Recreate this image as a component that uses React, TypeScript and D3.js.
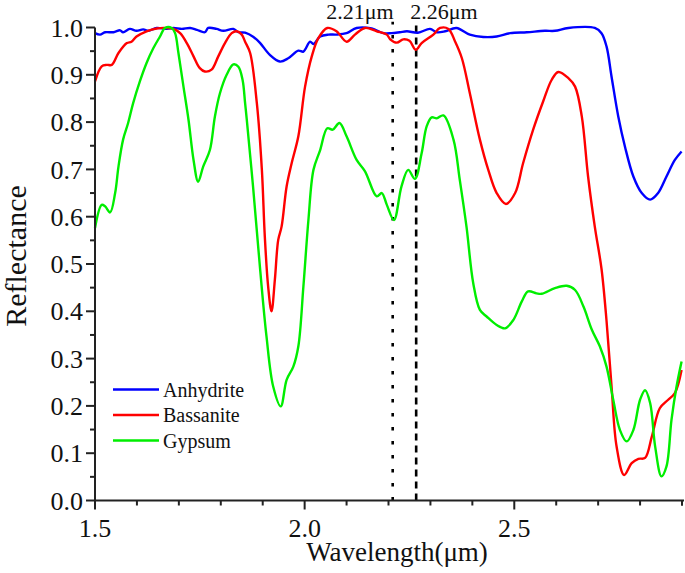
import React, { useEffect } from "react";
import * as d3 from "d3";

// ---- Data (wavelength µm, reflectance) ----
const anhydrite: [number, number][] = [
  [1.5, 0.988], [1.512, 0.985], [1.524, 0.99], [1.544, 0.99], [1.56, 0.994], [1.567, 0.99],
  [1.583, 0.997], [1.599, 0.993], [1.615, 0.996], [1.627, 0.993], [1.647, 0.999], [1.671, 0.997],
  [1.687, 0.999], [1.707, 0.997], [1.727, 0.999], [1.743, 0.995], [1.762, 0.99], [1.77, 0.999],
  [1.79, 0.997], [1.806, 0.993], [1.83, 0.997], [1.842, 0.99], [1.858, 0.989], [1.878, 0.98],
  [1.894, 0.967], [1.917, 0.942], [1.941, 0.928], [1.961, 0.935], [1.985, 0.951], [1.997, 0.949],
  [2.013, 0.97], [2.021, 0.965], [2.037, 0.981], [2.057, 0.985], [2.076, 0.985], [2.1, 0.988],
  [2.124, 0.999], [2.16, 0.998], [2.188, 0.988], [2.207, 0.988], [2.227, 0.99], [2.244, 0.992],
  [2.27, 0.989], [2.299, 0.997], [2.315, 0.99], [2.335, 0.992], [2.362, 0.999], [2.394, 0.985],
  [2.426, 0.98], [2.458, 0.981], [2.49, 0.988], [2.53, 0.99], [2.573, 0.993], [2.597, 0.993],
  [2.629, 0.999], [2.692, 0.999], [2.708, 0.988], [2.72, 0.96], [2.732, 0.896], [2.748, 0.812],
  [2.764, 0.748], [2.784, 0.685], [2.804, 0.65], [2.824, 0.636], [2.843, 0.65], [2.863, 0.685],
  [2.883, 0.72], [2.899, 0.738],
];

const bassanite: [number, number][] = [
  [1.5, 0.886], [1.516, 0.918], [1.528, 0.921], [1.54, 0.921], [1.556, 0.946], [1.576, 0.967],
  [1.587, 0.97], [1.599, 0.981], [1.623, 0.992], [1.647, 0.998], [1.671, 0.999], [1.687, 0.997],
  [1.703, 0.988], [1.719, 0.967], [1.735, 0.939], [1.75, 0.914], [1.762, 0.907], [1.778, 0.911],
  [1.794, 0.939], [1.81, 0.967], [1.826, 0.988], [1.838, 0.992], [1.85, 0.985], [1.858, 0.97],
  [1.87, 0.946], [1.886, 0.84], [1.898, 0.699], [1.905, 0.558], [1.913, 0.452], [1.921, 0.4],
  [1.929, 0.467], [1.937, 0.551], [1.945, 0.579], [1.957, 0.664], [1.969, 0.713], [1.985, 0.77],
  [2.001, 0.875], [2.017, 0.939], [2.033, 0.978], [2.054, 0.999], [2.076, 0.992], [2.1, 0.97],
  [2.12, 0.985], [2.144, 0.999], [2.172, 0.992], [2.196, 0.985], [2.204, 0.975], [2.22, 0.968],
  [2.235, 0.975], [2.25, 0.972], [2.265, 0.953], [2.279, 0.967], [2.307, 0.985], [2.323, 0.999],
  [2.343, 0.997], [2.359, 0.97], [2.375, 0.935], [2.394, 0.861], [2.418, 0.763], [2.438, 0.699],
  [2.458, 0.65], [2.48, 0.627], [2.502, 0.65], [2.521, 0.713], [2.545, 0.784], [2.569, 0.844],
  [2.589, 0.889], [2.605, 0.906], [2.629, 0.893], [2.645, 0.875], [2.661, 0.812], [2.676, 0.685],
  [2.692, 0.579], [2.708, 0.49], [2.72, 0.38], [2.732, 0.241], [2.744, 0.114], [2.762, 0.054],
  [2.78, 0.079], [2.796, 0.088], [2.812, 0.09], [2.828, 0.135], [2.847, 0.195], [2.867, 0.213],
  [2.883, 0.227], [2.899, 0.276],
];

const gypsum: [number, number][] = [
  [1.5, 0.576], [1.516, 0.625], [1.524, 0.622], [1.536, 0.609], [1.548, 0.65], [1.556, 0.706],
  [1.567, 0.763], [1.579, 0.798], [1.591, 0.84], [1.607, 0.886], [1.623, 0.925], [1.639, 0.956],
  [1.655, 0.981], [1.667, 0.999], [1.683, 0.999], [1.691, 0.988], [1.699, 0.946], [1.711, 0.875],
  [1.723, 0.805], [1.735, 0.72], [1.746, 0.674], [1.758, 0.706], [1.774, 0.741], [1.786, 0.812],
  [1.798, 0.861], [1.814, 0.9], [1.83, 0.922], [1.842, 0.917], [1.852, 0.889], [1.858, 0.84],
  [1.862, 0.805], [1.877, 0.663], [1.894, 0.487], [1.909, 0.347], [1.925, 0.241], [1.943, 0.199],
  [1.957, 0.255], [1.973, 0.283], [1.985, 0.326], [1.997, 0.452], [2.009, 0.593], [2.021, 0.699],
  [2.037, 0.741], [2.054, 0.787], [2.067, 0.784], [2.083, 0.798], [2.1, 0.77], [2.124, 0.72],
  [2.144, 0.696], [2.172, 0.643], [2.184, 0.65], [2.196, 0.625], [2.213, 0.593], [2.231, 0.664],
  [2.247, 0.699], [2.263, 0.68], [2.279, 0.734], [2.291, 0.791], [2.303, 0.81], [2.315, 0.808],
  [2.331, 0.814], [2.355, 0.763], [2.37, 0.678], [2.386, 0.579], [2.402, 0.46], [2.418, 0.403],
  [2.434, 0.389], [2.458, 0.371], [2.478, 0.364], [2.498, 0.382], [2.518, 0.421], [2.533, 0.442],
  [2.553, 0.438], [2.565, 0.437], [2.597, 0.449], [2.625, 0.454], [2.645, 0.445], [2.665, 0.41],
  [2.685, 0.361], [2.704, 0.326], [2.72, 0.283], [2.736, 0.213], [2.752, 0.149], [2.768, 0.125],
  [2.784, 0.149], [2.8, 0.213], [2.812, 0.233], [2.824, 0.206], [2.836, 0.114], [2.851, 0.051],
  [2.863, 0.072], [2.875, 0.171], [2.887, 0.241], [2.899, 0.294],
];

const seriesNames = ["Anhydrite", "Bassanite", "Gypsum"];
const seriesColors = ["#0000ff", "#ff0000", "#00ee00"];
const xTickLabels = [1.5, 2.0, 2.5];
const yTickLabels = [0, 0.1, 0.2, 0.3, 0.4, 0.5, 0.6, 0.7, 0.8, 0.9, 1.0];
const markers = [
  { wl: 2.21, label: "2.21μm", dash: "3.5,10.5", anchor: "end", dx: 1 },
  { wl: 2.266, label: "2.26μm", dash: "7,5", anchor: "start", dx: -6 },
];

const W = 685;
const H = 573;
const FONT = "Liberation Serif, Times New Roman, DejaVu Serif, serif";
const txt = { fontFamily: FONT };

export default function App() {
  useEffect(() => {
    document.body.style.margin = "0";
  }, []);

  const x = d3.scaleLinear().domain([1.5, 2.9]).range([95, 682]);
  const y = d3.scaleLinear().domain([0, 1]).range([500.5, 27.5]);
  const line = d3
    .line<[number, number]>()
    .x((d) => x(d[0]))
    .y((d) => y(d[1]))
    .curve(d3.curveCatmullRom.alpha(0.5));

  const data = [anhydrite, bassanite, gypsum];
  const xMinor = d3.range(15, 30).map((v) => v / 10);
  const yMinor = d3.range(0, 21).map((v) => v / 20);

  return (
    <svg width={W} height={H} style={{ position: "absolute", left: 0, top: 0, background: "#fff" }}>
      <rect x={0} y={0} width={W} height={H} fill="#fff" />
      {/* reference lines */}
      {markers.map((m) => (
        <g key={m.label}>
          <line x1={x(m.wl)} x2={x(m.wl)} y1={y(0)} y2={y(1.012)} stroke="#000" strokeWidth={2.6} strokeDasharray={m.dash} />
          <text x={x(m.wl) + m.dx} y={19} fontSize={22} textAnchor={m.anchor as any} fill="#111" style={txt}>
            {m.label}
          </text>
        </g>
      ))}
      {/* curves */}
      {data.map((d, i) => (
        <path key={seriesNames[i]} d={line(d) || ""} fill="none" stroke={seriesColors[i]} strokeWidth={2.4} strokeLinejoin="round" />
      ))}
      {/* axes */}
      <line x1={x(1.5)} x2={x(1.5)} y1={y(0) + 1} y2={y(1)} stroke="#222" strokeWidth={2} />
      <line x1={x(1.5) - 1} x2={x(2.9) + 2} y1={y(0)} y2={y(0)} stroke="#222" strokeWidth={2} />
      {yMinor.map((v, i) => (
        <line key={"yt" + i} x1={x(1.5)} x2={x(1.5) - (i % 2 === 0 ? 9 : 5)} y1={y(v)} y2={y(v)} stroke="#222" strokeWidth={2} />
      ))}
      {xMinor.map((v, i) => (
        <line key={"xt" + i} x1={x(v)} x2={x(v)} y1={y(0)} y2={y(0) + (i % 5 === 0 ? 9 : 5)} stroke="#222" strokeWidth={2} />
      ))}
      <line x1={x(2.9)} x2={x(2.9)} y1={y(0)} y2={y(0) + 5} stroke="#222" strokeWidth={2} />
      {yTickLabels.map((v) => (
        <text key={"yl" + v} x={83} y={y(v)} dy="0.35em" fontSize={26} textAnchor="end" fill="#111" style={txt}>
          {v.toFixed(1)}
        </text>
      ))}
      {xTickLabels.map((v) => (
        <text key={"xl" + v} x={x(v)} y={537} fontSize={26} textAnchor="middle" fill="#111" style={txt}>
          {v.toFixed(1)}
        </text>
      ))}
      <text x={397} y={561} fontSize={27} textAnchor="middle" fill="#111" style={txt}>
        Wavelength(μm)
      </text>
      <text transform="translate(26,256) rotate(-90)" fontSize={30} textAnchor="middle" fill="#111" style={txt}>
        Reflectance
      </text>
      {/* legend */}
      {seriesNames.map((n, i) => (
        <g key={"lg" + n} transform={`translate(113,${389.5 + i * 25.5})`}>
          <line x1={0} x2={46} y1={0} y2={0} stroke={seriesColors[i]} strokeWidth={2.5} />
          <text x={50} y={0} dy="0.35em" fontSize={20} fill="#111" style={txt}>
            {n}
          </text>
        </g>
      ))}
    </svg>
  );
}
